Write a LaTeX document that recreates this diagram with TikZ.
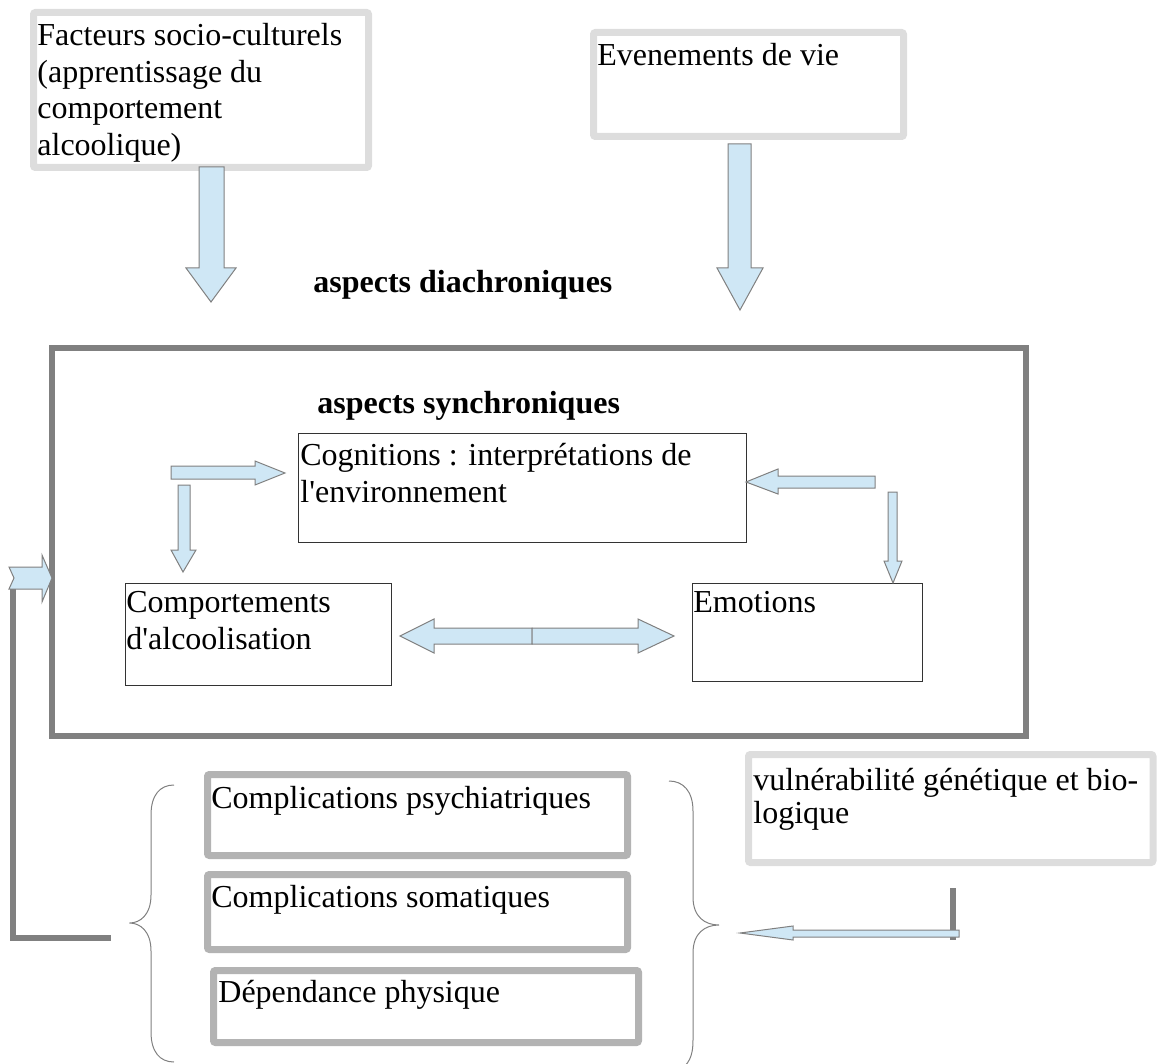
\documentclass[tikz,border=0pt]{standalone}
\usepackage{fontspec}
\setmainfont{Liberation Serif}[Ligatures=TeXOff]
\definecolor{lightgr}{HTML}{DDDDDD}
\definecolor{midgr}{HTML}{B3B3B3}
\definecolor{darkgr}{HTML}{808080}
\definecolor{arrfill}{HTML}{CFE7F5}
\definecolor{thinline}{HTML}{333333}
\tikzset{
  lightbox/.style={draw=lightgr, line width=3.5pt, rounded corners=1pt, inner sep=0pt},
  midbox/.style={draw=midgr, line width=3.5pt, rounded corners=1pt, inner sep=0pt},
  bigbox/.style={draw=darkgr, line width=3pt, inner sep=0pt},
  thinbox/.style={draw=thinline, line width=0.5pt, inner sep=0pt},
  txt/.style={anchor=north west, inner sep=0pt, align=left, font=\fontsize{16}{18.4}\selectfont},
  btxt/.style={txt, font=\fontsize{16}{18.4}\selectfont\bfseries},
  blockarrow/.style={fill=arrfill, draw=darkgr, line width=0.5pt, line join=miter},
  feedline/.style={draw=darkgr, line width=3pt},
  bracepath/.style={draw=darkgr, line width=0.5pt}
}
\begin{document}
\begin{tikzpicture}[x=0.5pt,y=-0.5pt]
\useasboundingbox (0,0) rectangle (1157,1064);
% boxes
\node[lightbox, minimum width=167.5pt, minimum height=77.5pt] (fact) at (201,90) {};
\node[lightbox, minimum width=155pt, minimum height=52pt] (even) at (748.5,84.5) {};
\node[lightbox, minimum width=202.25pt, minimum height=54pt] (vuln) at (950.75,808.5) {};
\node[midbox, minimum width=210pt, minimum height=40.5pt] (psy) at (417.5,815) {};
\node[midbox, minimum width=210pt, minimum height=37.5pt] (soma) at (417.5,912) {};
\node[midbox, minimum width=212.5pt, minimum height=36pt] (dep) at (426,1006.5) {};
\node[bigbox, minimum width=487pt, minimum height=194pt] (big) at (539,542) {};
\node[thinbox, minimum width=224pt, minimum height=54.5pt] (cog) at (522,487.5) {};
\node[thinbox, minimum width=133pt, minimum height=51pt] (comp) at (258,634) {};
\node[thinbox, minimum width=115pt, minimum height=49pt] (emo) at (807,632) {};
% texts (north west = baseline - strut height)
\node[txt] (tfact) at (37,19.2) {\strut Facteurs socio-culturels\\(apprentissage du\\comportement\\alcoolique)};
\node[txt] (teven) at (597,39.2) {\strut Evenements de vie};
\node[btxt] (tdia) at (313,266.2) {\strut aspects diachroniques};
\node[btxt] (tsyn) at (317,387.2) {\strut aspects synchroniques};
\node[txt] (tcog) at (300,439.2) {\strut Cognitions : interprétations de\\l'environnement};
\node[txt] (tcomp) at (126,586.2) {\strut Comportements\\d'alcoolisation};
\node[txt] (temo) at (693,586.2) {\strut Emotions};
\node[txt, font=\fontsize{16}{16.5}\selectfont] (tvuln) at (753,766.9) {\strut vulnérabilité génétique et bio-\\logique};
\node[txt] (tpsy) at (211,782.2) {\strut Complications psychiatriques};
\node[txt] (tsoma) at (211,881.2) {\strut Complications somatiques};
\node[txt] (tdep) at (218,976.2) {\strut Dépendance physique};
% block arrows
\draw[blockarrow] (199,167) -- (224,167) -- (224,268) -- (236,268) -- (211,302) -- (186,268) -- (199,268) -- cycle;
\draw[blockarrow] (728,144) -- (751,144) -- (751,268) -- (763,268) -- (740,310) -- (717,268) -- (728,268) -- cycle;
\draw[blockarrow] (171,466) -- (255,466) -- (255,461) -- (285,473) -- (255,485) -- (255,479) -- (171,479) -- cycle;
\draw[blockarrow] (178,485) -- (190,485) -- (190,550) -- (196,550) -- (183,572) -- (171,550) -- (178,550) -- cycle;
\draw[blockarrow] (875,476) -- (778,476) -- (778,469) -- (746,482) -- (778,494) -- (778,488) -- (875,488) -- cycle;
\draw[blockarrow] (888,492) -- (897,492) -- (897,561) -- (902,561) -- (893,583) -- (884,561) -- (888,561) -- cycle;
\draw[blockarrow] (532,628) -- (434,628) -- (434,619) -- (400,636) -- (434,653) -- (434,644) -- (532,644) -- cycle;
\draw[blockarrow] (532,628) -- (638,628) -- (638,619) -- (674,636) -- (638,653) -- (638,644) -- (532,644) -- cycle;
% feedback line
\draw[feedline] (13,589) -- (13,938) -- (111,938);
\draw[blockarrow] (9,567) -- (42,567) -- (42,555) -- (52,578) -- (42,602) -- (42,589) -- (9,589) -- (14,578) -- cycle;
% vulnerability arrow
\draw[feedline] (953,888) -- (953,940);
\draw[blockarrow] (959,930) -- (793,930) -- (793,926) -- (740,933) -- (793,940) -- (793,937) -- (959,937) -- cycle;
% braces
\draw[bracepath] (174,785) .. controls (160,785) and (151,795) .. (151,815) -- (151,895) .. controls (151,915) and (140,923) .. (129.5,923) .. controls (140,923) and (151,931) .. (151,951) -- (151,1032) .. controls (151,1052) and (160,1062) .. (174,1062);
\draw[bracepath] (669,781) .. controls (683,781) and (693,791) .. (693,811) -- (693,897) .. controls (693,917) and (705,925) .. (719,925) .. controls (705,925) and (693,933) .. (693,953) -- (693,1040) .. controls (693,1058) and (688,1064) .. (680,1070);
\end{tikzpicture}
\end{document}
